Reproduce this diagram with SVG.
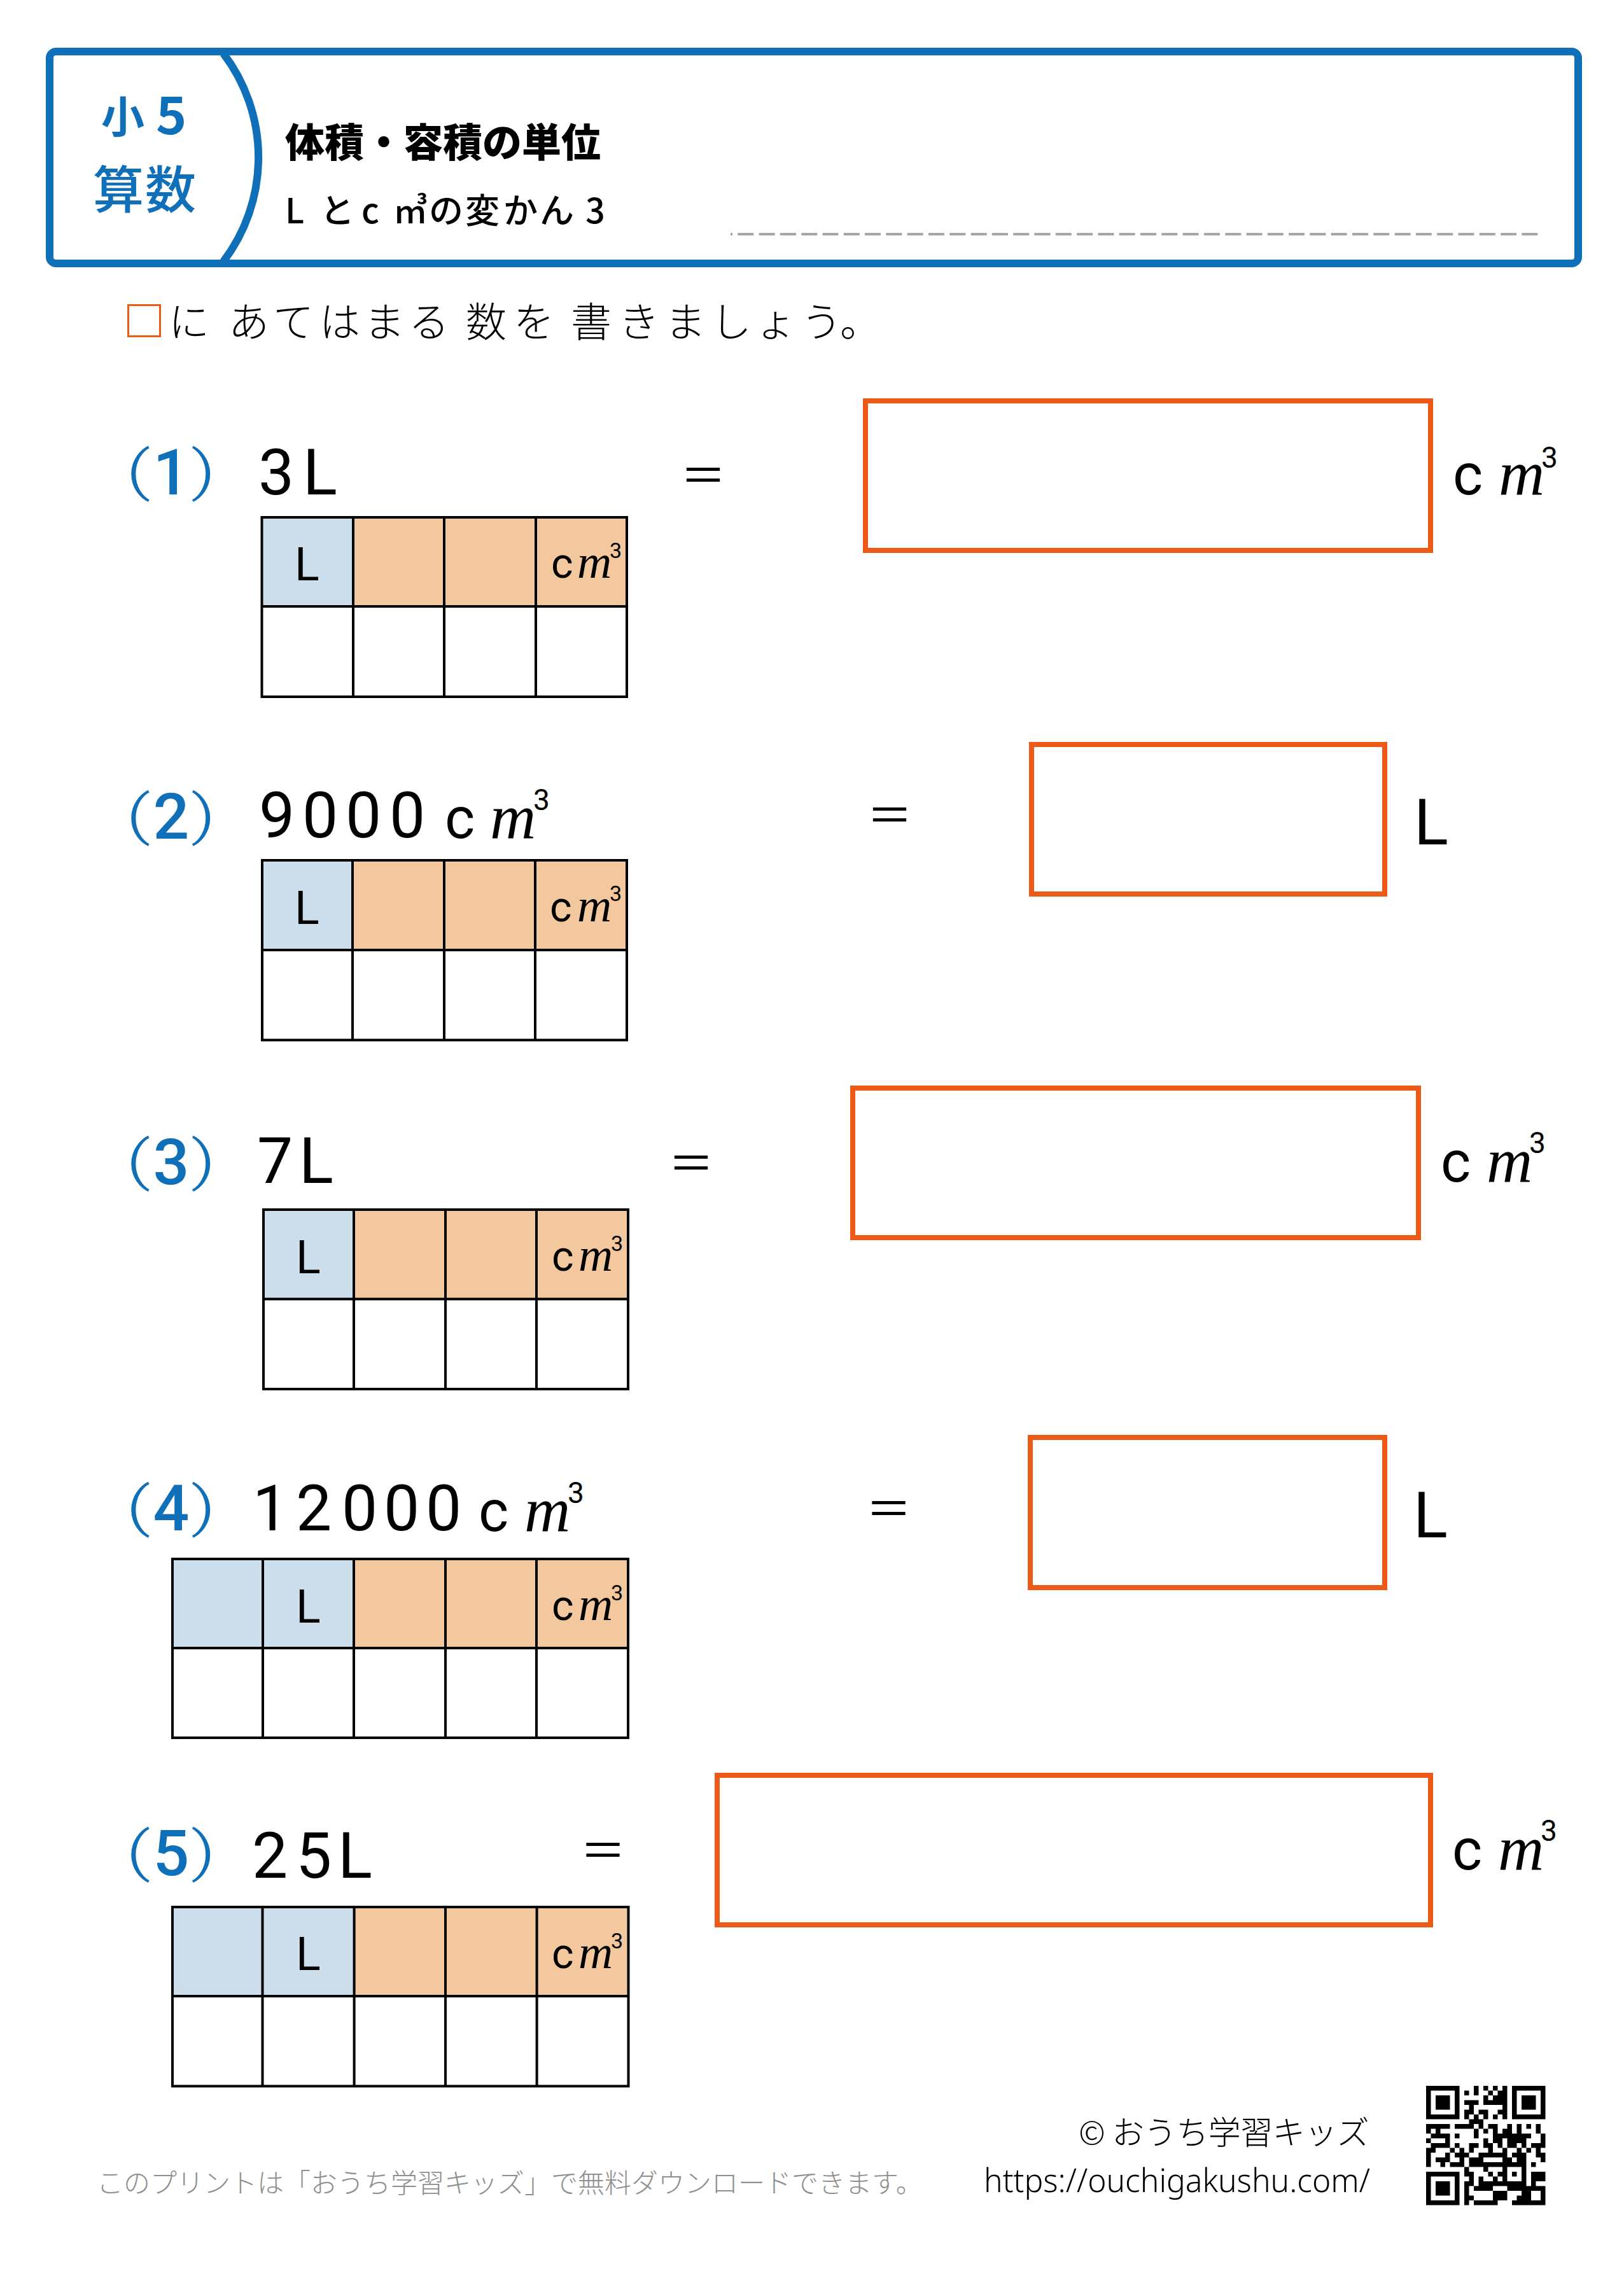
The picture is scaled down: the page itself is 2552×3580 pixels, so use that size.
<svg xmlns="http://www.w3.org/2000/svg" width="2552" height="3580" viewBox="0 0 2552 3580">
<style>
text{font-family:"Roboto","Noto Sans CJK JP",sans-serif}
.j{font-family:"Noto Sans CJK JP",sans-serif}
.blue{fill:#0f6fb8}
.d{font-size:100px;font-weight:400}
.n{font-size:100px;font-weight:500;fill:#0f6fb8;text-anchor:middle}
.p{font-size:86px;font-weight:300;fill:#0f6fb8}
.c{font-size:90px;font-weight:400}
.m{font-family:"Liberation Serif",serif;font-style:italic;font-size:100px}
.s{font-size:46px;font-weight:400}
.tl{font-size:72px;font-weight:400}
.tc{font-size:66px;font-weight:400}
.tm{font-family:"Liberation Serif",serif;font-style:italic;font-size:75px}
.ts{font-size:34px;font-weight:400}
.eq{font-family:"Noto Sans CJK JP",sans-serif;font-size:72px;text-anchor:middle}
.box{fill:#fff;stroke:#eb5a17;stroke-width:8}
.b{fill:#ccdeec}.o{fill:#f4c89e}
.g{fill:none;stroke:#000;stroke-width:4}
</style>
<rect width="2552" height="3580" fill="#fff"/>
<g id="header">
<rect x="78" y="81" width="2402" height="333" rx="10" fill="#fff" stroke="#0f6fb8" stroke-width="12"/>
<path d="M351 84A270 270 0 0 1 351 411" fill="none" stroke="#0f6fb8" stroke-width="12"/>
<text class="j blue" font-size="68" font-weight="700" x="159" y="209">小</text>
<text class="j blue" font-size="82" font-weight="700" x="245" y="211">5</text>
<text class="j blue" font-size="80" font-weight="500" x="146 228" y="327">算数</text>
<text class="j" font-size="62" font-weight="900" x="448" y="247">体積・容積の単位</text>
<text class="j" font-size="54" font-weight="500" x="448 503 568 618 674 731 791 848 920" y="351">Lとc㎥の変かん3</text>
<line x1="1148" y1="368" x2="2422" y2="368" stroke="#a6a6a6" stroke-width="4" stroke-dasharray="25 8.3" stroke-dashoffset="22"/>
</g>
<g id="instruction">
<rect x="201.500" y="479.500" width="50" height="49" fill="#fff" stroke="#eb5a17" stroke-width="3"/>
<text class="j" font-size="64" font-weight="300" x="265 320 359 429 502 572 642 695 732 807 860 897 972 1045 1117 1187 1259 1320" y="529">に あてはまる 数を 書きましょう。</text>
</g>
<g id="q1">
<text class="p" transform="translate(198 769) scale(1.4 1)">(</text><text class="n" x="269" y="777">1</text><text class="p" transform="translate(300 769) scale(1.4 1)">)</text>
<text class="d" x="406 476" y="777">3L</text>
<text class="eq" x="1105" y="773">＝</text>
<rect class="box" x="1360" y="630" width="888" height="235"/>
<text x="2283" y="777"><tspan class="c">c</tspan><tspan class="m" x="2355">m</tspan><tspan class="s" x="2422" y="735">3</tspan></text>
<g id="t1">
<rect class="b" x="411.500" y="813" width="143.500" height="140"/><rect class="o" x="555" y="813" width="430" height="140"/>
<path class="g" d="M411.500 813H985V1095H411.500ZM555 813V1095M698 813V1095M842 813V1095M411.500 953H985"/>
<text class="tl" x="463" y="912">L</text>
<text x="866" y="908"><tspan class="tc">c</tspan><tspan class="tm" x="907">m</tspan><tspan class="ts" x="958" y="877">3</tspan></text>
</g>
</g>
<g id="q2">
<text class="p" transform="translate(198 1310) scale(1.4 1)">(</text><text class="n" x="269" y="1318">2</text><text class="p" transform="translate(300 1310) scale(1.4 1)">)</text>
<text class="d" x="407 475 543 612" y="1316">9000</text>
<text x="699" y="1317"><tspan class="c">c</tspan><tspan class="m" x="770">m</tspan><tspan class="s" x="838" y="1273">3</tspan></text>
<text class="eq" x="1398" y="1307">＝</text>
<rect class="box" x="1621" y="1170" width="555" height="235"/>
<text class="d" x="2222" y="1327">L</text>
<g id="t2">
<rect class="b" x="412" y="1352" width="142" height="141"/><rect class="o" x="554" y="1352" width="431" height="141"/>
<path class="g" d="M412 1352H985V1634.500H412ZM554 1352V1634.500M698 1352V1634.500M841 1352V1634.500M412 1493H985"/>
<text class="tl" x="463" y="1452">L</text>
<text x="864" y="1448"><tspan class="tc">c</tspan><tspan class="tm" x="907">m</tspan><tspan class="ts" x="958" y="1416">3</tspan></text>
</g>
</g>
<g id="q3">
<text class="p" transform="translate(198 1853) scale(1.4 1)">(</text><text class="n" x="269" y="1861">3</text><text class="p" transform="translate(300 1853) scale(1.4 1)">)</text>
<text class="d" x="404 470" y="1859">7L</text>
<text class="eq" x="1086" y="1854">＝</text>
<rect class="box" x="1340" y="1710" width="889" height="235"/>
<text x="2264" y="1857"><tspan class="c">c</tspan><tspan class="m" x="2336">m</tspan><tspan class="s" x="2403" y="1812">3</tspan></text>
<g id="t3">
<rect class="b" x="414" y="1901" width="142" height="140.500"/><rect class="o" x="556" y="1901" width="431" height="140.500"/>
<path class="g" d="M414 1901H987V2183H414ZM556 1901V2183M700 1901V2183M843 1901V2183M414 2041.500H987"/>
<text class="tl" x="465" y="2001">L</text>
<text x="867" y="1997"><tspan class="tc">c</tspan><tspan class="tm" x="909">m</tspan><tspan class="ts" x="960" y="1966">3</tspan></text>
</g>
</g>
<g id="q4">
<text class="p" transform="translate(198 2397) scale(1.4 1)">(</text><text class="n" x="269" y="2405">4</text><text class="p" transform="translate(300 2397) scale(1.4 1)">)</text>
<text class="d" x="397 465 537 603 669" y="2405">12000</text>
<text x="752" y="2406"><tspan class="c">c</tspan><tspan class="m" x="824">m</tspan><tspan class="s" x="892" y="2362">3</tspan></text>
<text class="eq" x="1396.500" y="2397">＝</text>
<rect class="box" x="1619" y="2259" width="557" height="236"/>
<text class="d" x="2221" y="2416">L</text>
<g id="t4">
<rect class="b" x="271" y="2450" width="285" height="140"/><rect class="o" x="556" y="2450" width="431" height="140"/>
<path class="g" d="M271 2450H987V2731H271ZM413 2450V2731M556 2450V2731M700 2450V2731M843 2450V2731M271 2590H987"/>
<text class="tl" x="465" y="2550">L</text>
<text x="867" y="2546"><tspan class="tc">c</tspan><tspan class="tm" x="909">m</tspan><tspan class="ts" x="960" y="2515">3</tspan></text>
</g>
</g>
<g id="q5">
<text class="p" transform="translate(198 2939) scale(1.4 1)">(</text><text class="n" x="269" y="2947">5</text><text class="p" transform="translate(300 2939) scale(1.4 1)">)</text>
<text class="d" x="396 465 531" y="2951">25L</text>
<text class="eq" x="947.500" y="2934">＝</text>
<rect class="box" x="1127" y="2790" width="1121" height="235"/>
<text x="2282" y="2938"><tspan class="c">c</tspan><tspan class="m" x="2354">m</tspan><tspan class="s" x="2421" y="2893">3</tspan></text>
<g id="t5">
<rect class="b" x="271" y="2997" width="285.600" height="140"/><rect class="o" x="556.600" y="2997" width="431" height="140"/>
<path class="g" d="M271 2997H987.500V3278.500H271ZM412.500 2997V3278.500M556.600 2997V3278.500M700 2997V3278.500M843.600 2997V3278.500M271 3137H987.500"/>
<text class="tl" x="465" y="3096">L</text>
<text x="867" y="3093"><tspan class="tc">c</tspan><tspan class="tm" x="909">m</tspan><tspan class="ts" x="960" y="3062">3</tspan></text>
</g>
</g>
<g id="footer">
<text class="j" font-size="42" font-weight="300" fill="#8f8f8f" x="152" y="3446">このプリントは「おうち学習キッズ」で無料ダウンロードできます。</text>
<text class="j" font-size="51" font-weight="300" letter-spacing="-0.500" x="1695" y="3370">© おうち学習キッズ</text>
<text font-size="52" font-weight="300" x="1546" y="3445" textLength="607" lengthAdjust="spacingAndGlyphs" style="font-family:'Noto Sans',sans-serif">https://ouchigakushu.com/</text>
</g>
<g id="qr" transform="translate(2241 3278) scale(7.500)">
<path fill-rule="evenodd" d="M0 0h7v7h-7zM1 1h5v5h-5zM2 2h3v3h-3zM18 0h7v7h-7zM19 1h5v5h-5zM20 2h3v3h-3zM0 18h7v7h-7zM1 19h5v5h-5zM2 20h3v3h-3z"/>
<path fill="none" stroke="#000" stroke-width="1" d="M10 .5h1M12 .5h1M14 .5h1M16 .5h1M8 1.500h1M10 1.500h1M13 1.500h1M15 1.500h2M12 2.500h1M14 2.500h3M8 3.500h3M12 3.500h5M9 4.500h1M16 4.500h1M8 5.500h2M11 5.500h2M15 5.500h2M8 6.500h1M10 6.500h1M12 6.500h1M14 6.500h1M16 6.500h1M9 7.500h3M0 8.500h5M6 8.500h4M11 8.500h1M13 8.500h2M17 8.500h1M19 8.500h1M21 8.500h1M23 8.500h1M0 9.500h1M2 9.500h1M10 9.500h1M12 9.500h1M14 9.500h1M16 9.500h2M19 9.500h1M23 9.500h1M1 10.500h4M6 10.500h1M10 10.500h1M14 10.500h8M24 10.500h1M0 11.500h1M4 11.500h1M12 11.500h1M14 11.500h2M17 11.500h4M24 11.500h1M1 12.500h4M6 12.500h1M9 12.500h2M12 12.500h2M15 12.500h1M17 12.500h2M20 12.500h1M22 12.500h3M0 13.500h2M5 13.500h1M7 13.500h1M9 13.500h1M13 13.500h1M16 13.500h1M19 13.500h1M21 13.500h1M23 13.500h1M0 14.500h1M4 14.500h1M6 14.500h3M11 14.500h6M18 14.500h3M23 14.500h2M0 15.500h1M2 15.500h3M7 15.500h1M9 15.500h3M16 15.500h2M19 15.500h2M24 15.500h1M0 16.500h1M3 16.500h1M5 16.500h3M9 16.500h12M22 16.500h1M8 17.500h1M12 17.500h1M16 17.500h1M20 17.500h1M8 18.500h2M13 18.500h1M15 18.500h2M18 18.500h1M20 18.500h1M22 18.500h3M9 19.500h1M11 19.500h1M14 19.500h1M16 19.500h1M20 19.500h1M22 19.500h3M8 20.500h2M11 20.500h10M22 20.500h1M8 21.500h1M10 21.500h4M17 21.500h8M8 22.500h1M14 22.500h3M20 22.500h2M24 22.500h1M8 23.500h2M14 23.500h3M19 23.500h3M24 23.500h1M8 24.500h1M10 24.500h5M18 24.500h7"/>
</g>
</svg>
